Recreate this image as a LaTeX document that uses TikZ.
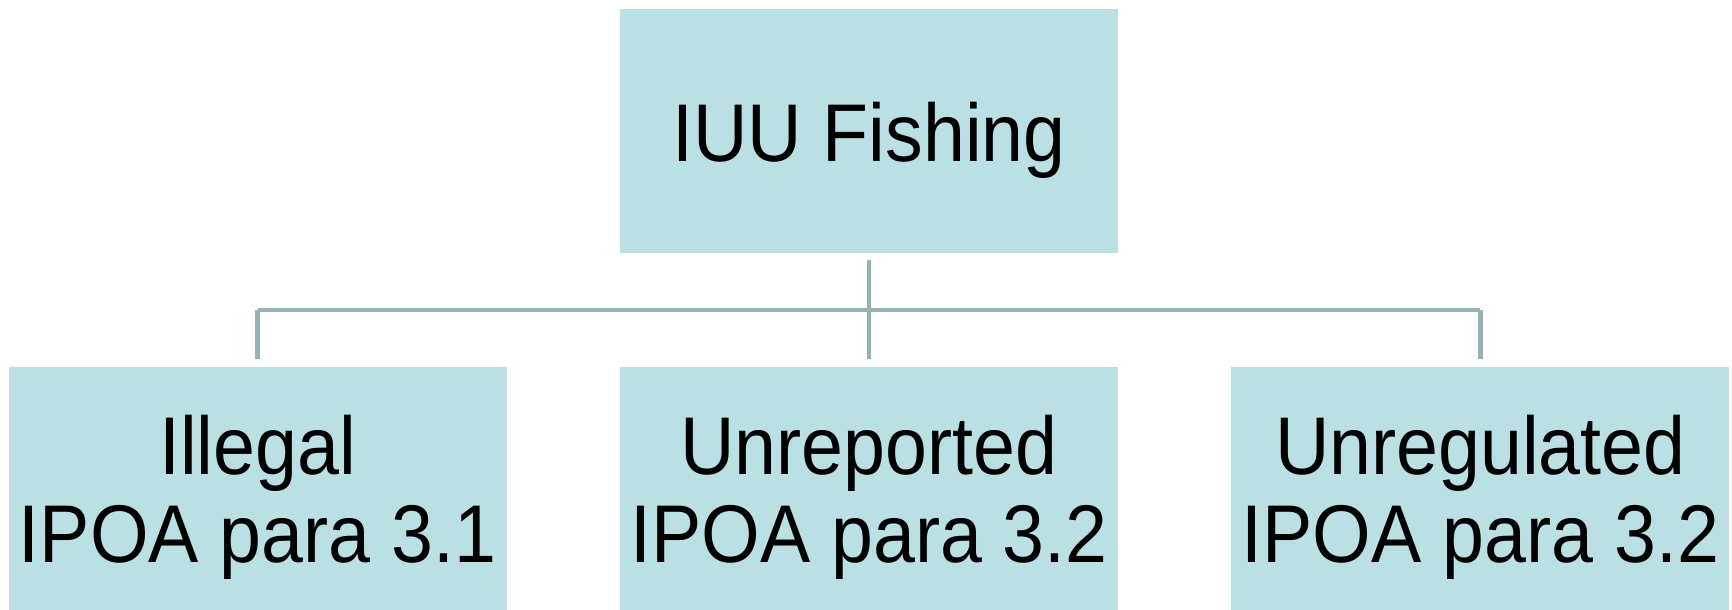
\documentclass[tikz,border=0pt]{standalone}
\usepackage{fontspec}
\setmainfont{Liberation Sans}[FakeStretch=0.92]
\usepackage{tikz}
\usetikzlibrary{positioning,
	calc}
\definecolor{boxfill}{RGB}{187,224,227}
\definecolor{linkgray}{RGB}{149,179,182}
\tikzstyle{iuubox}=[rectangle, fill=boxfill, minimum width=4.98cm,
	minimum height=2.44cm, inner sep=0, align=center, text depth=0pt,
	font=\fontsize{23.3}{25}\selectfont]
\tikzstyle{link}=[draw=linkgray, line width=1.3pt]

\begin{document}
\begin{tikzpicture}
            \useasboundingbox (0,0) rectangle (17.32,6.09);
            \node[iuubox] (iuu) at (8.69,4.775) {IUU Fishing};
            \node[iuubox, below=1.12cm of iuu] (unrep) {Unreported\\IPOA para 3.2};
            \node[iuubox, left=1.12cm of unrep] (illegal) {Illegal\\IPOA para 3.1};
            \node[iuubox, right=1.12cm of unrep] (unreg) {Unregulated\\IPOA para 3.2};
            \coordinate (bar) at ($(iuu.south)!0.5!(unrep.north)$);
            \draw[link, shorten <=0.06cm, shorten >=0.07cm] (iuu.south) to (unrep.north);
            \draw[link] (illegal.north |- bar) to (unreg.north |- bar);
            \draw[link, shorten >=0.07cm] (illegal.north |- bar) to (illegal.north);
            \draw[link, shorten >=0.07cm] (unreg.north |- bar) to (unreg.north);
        \end{tikzpicture}
\end{document}
